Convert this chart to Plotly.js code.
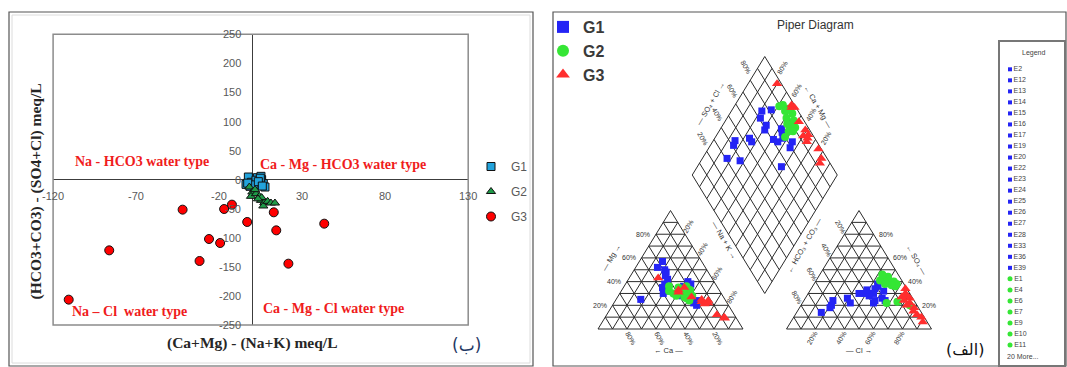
<!DOCTYPE html>
<html>
<head>
<meta charset="utf-8">
<script src="https://cdn.plot.ly/plotly-3.0.1.min.js"></script>
<style>
  html, body { margin: 0; padding: 0; background: #ffffff; }
  #chart { width: 1067px; height: 367px; }
</style>
</head>
<body>
<div id="chart"></div>
<script>
// ---------- Chadha plot values (meq/L) ----------
const xTicks = [-120, -70, -20, 30, 80, 130];
const yTicks = [-250, -200, -150, -100, -50, 0, 50, 100, 150, 200, 250];

const g1X = [-3.8, -1.8, 0.6, 3.0, 5.6, 6.6, 4.2, 1.6, -1.4, -2.4, 5.2, 7.6, -0.5, 2.2, 4.8, 1.0, 3.6, 6.0, -2.8];
const g1Y = [-8.1, -2.4, 1.7, 3.4, 0.0, -6.9, -8.1, -5.8, -11.5, 4.5, 5.7, -12.7, -4.5, -1.0, 2.5, -9.0, -3.5, -11.0, -6.0];

const g2X = [-1.8, 0.0, -0.8, 2.2, 4.2, 5.2, 7.2, 6.6, 9.2, 11.2, 13.6, 1.6, 5.6, 3.4];
const g2Y = [-12.7, -21.3, -28.7, -24.1, -28.7, -35.6, -39.5, -45.3, -37.3, -40.2, -40.2, -17.2, -30.9, -33.0];

const g3X = [-110.6, -86.2, -42.0, -31.8, -26.1, -19.4, -17.0, -12.3, -3.1, 12.9, 14.4, 21.7, 43.3];
const g3Y = [-206.4, -121.6, -51.6, -139.9, -102.1, -109.0, -50.5, -43.0, -72.8, -56.2, -87.2, -144.5, -75.7];

const quadrantLabels = ['Na - HCO3 water type', 'Ca - Mg - HCO3 water type', 'Na \u2013 Cl  water type', 'Ca - Mg - Cl water type'];

// ---------- Piper values (% of meq) ----------
const g1Na  = [21, 23, 27, 31, 42, 41, 45, 24, 27, 15, 16, 17, 27, 55, 56, 58, 47, 30, 44];
const g1Mg  = [50, 48, 42, 32, 40, 36, 38, 45, 38, 52, 57, 25, 35, 22, 24, 20, 33, 30, 28];
const g1Cl  = [45, 43, 44, 39, 45, 49, 49, 29, 33, 20, 21, 17, 21, 51, 53, 35, 44, 39, 56];
const g1SO4 = [30, 28, 38, 30, 36, 22, 24, 26, 22, 24, 20, 14, 18, 32, 26, 30, 34, 33, 24];

const g2Na  = [33, 38, 37, 43, 41, 47, 46, 51, 48, 48, 31, 40, 51, 44];
const g2Mg  = [32, 35, 30, 36, 33, 33, 27, 28, 30, 26, 36, 28, 24, 30];
const g2Cl  = [48, 54, 49, 57, 44, 57, 48, 54, 44, 58, 43, 75, 65, 49];
const g2SO4 = [44, 40, 42, 38, 45, 36, 40, 37, 41, 22, 46, 20, 23, 38];

const g3Na  = [20, 39, 42, 51, 59, 60, 64, 65, 76, 82, 83, 40, 63];
const g3Mg  = [43, 33, 35, 27, 25, 23, 24, 22, 12, 10, 9, 31, 21];
const g3Cl  = [67, 72, 65, 74, 79, 66, 80, 69, 88, 84, 73, 69, 91];
const g3SO4 = [30, 26, 34, 22, 18, 27, 15, 24, 10, 12, 20, 28, 6];

const g1Names = ['E2', 'E12', 'E13', 'E14', 'E15', 'E16', 'E17', 'E19', 'E20', 'E22', 'E23', 'E24', 'E25', 'E26', 'E27', 'E28', 'E33', 'E36', 'E39'];
const g2Listed = ['E1', 'E4', 'E6', 'E7', 'E9', 'E10', 'E11'];
const moreCount = 20;
const percentTicks = [20, 40, 60, 80];

// ---------- page geometry helpers ----------
const W = 1067, H = 367;
const fx = p => p / W;
const fy = p => 1 - p / H;

// Piper geometry: triangles of side 100, gap between them
const HT = Math.sqrt(3) / 2;
const GAP = 30;
const cationXY = (na, mg) => [na + mg / 2, mg * HT];
const anionXY = (cl, so4) => [100 + GAP + cl + so4 / 2, so4 * HT];
const diamondXY = (na, a) => [(na + 100 + GAP + a) / 2, Math.sqrt(3) * (100 + GAP + a - na) / 2];

function piperPoints(na, mg, cl, so4) {
  const xs = [], ys = [];
  na.forEach((v, i) => { const p = cationXY(v, mg[i]); xs.push(p[0]); ys.push(p[1]); });
  cl.forEach((v, i) => { const p = anionXY(v, so4[i]); xs.push(p[0]); ys.push(p[1]); });
  na.forEach((v, i) => { const p = diamondXY(v, cl[i] + so4[i]); xs.push(p[0]); ys.push(p[1]); });
  return { x: xs, y: ys };
}

// grid of the two triangles and the diamond, 10 % spacing
function gridTrace() {
  const xs = [], ys = [];
  const seg = (a, b) => { xs.push(a[0], b[0], null); ys.push(a[1], b[1], null); };
  [0, 100 + GAP].forEach(x0 => {
    for (let k = 0; k <= 100; k += 10) {
      seg([x0 + k / 2, k * HT], [x0 + 100 - k / 2, k * HT]);
      seg([x0 + k, 0], [x0 + 50 + k / 2, (100 - k) * HT]);
      seg([x0 + k, 0], [x0 + k / 2, k * HT]);
    }
  });
  const B = [100 + GAP / 2, GAP * HT];
  const e1 = [-0.5, HT], e2 = [0.5, HT];
  for (let k = 0; k <= 100; k += 10) {
    const p = [B[0] + k * e1[0], B[1] + k * e1[1]];
    seg(p, [p[0] + 100 * e2[0], p[1] + 100 * e2[1]]);
    const q = [B[0] + k * e2[0], B[1] + k * e2[1]];
    seg(q, [q[0] + 100 * e1[0], q[1] + 100 * e1[1]]);
  }
  return {
    type: 'scatter', mode: 'lines', x: xs, y: ys, xaxis: 'x2', yaxis: 'y2',
    line: { color: '#2b2b2b', width: 1 }, hoverinfo: 'skip', showlegend: false
  };
}

// ---------- traces ----------
const traces = [];

traces.push({
  type: 'scatter', mode: 'markers', name: 'G1', x: g1X, y: g1Y, legendgroup: 'c1',
  marker: { symbol: 'square', size: 8, color: '#22a3dc', line: { color: '#111', width: 1 } }
});
traces.push({
  type: 'scatter', mode: 'markers', name: 'G2', x: g2X, y: g2Y, legendgroup: 'c2',
  marker: { symbol: 'triangle-up', size: 8, color: '#1f9a48', line: { color: '#111', width: 1 } }
});
traces.push({
  type: 'scatter', mode: 'markers', name: 'G3', x: g3X, y: g3Y, legendgroup: 'c3',
  marker: { symbol: 'circle', size: 9, color: '#ff0000', line: { color: '#111', width: 1 } }
});

traces.push(gridTrace());

const p1 = piperPoints(g1Na, g1Mg, g1Cl, g1SO4);
const p2 = piperPoints(g2Na, g2Mg, g2Cl, g2SO4);
const p3 = piperPoints(g3Na, g3Mg, g3Cl, g3SO4);
traces.push({
  type: 'scatter', mode: 'markers', name: 'G1', x: p1.x, y: p1.y, xaxis: 'x2', yaxis: 'y2',
  legend: 'legend2', legendgroup: 'p1', marker: { symbol: 'square', size: 7, color: '#2424f5' }
});
traces.push({
  type: 'scatter', mode: 'markers', name: 'G2', x: p2.x, y: p2.y, xaxis: 'x2', yaxis: 'y2',
  legend: 'legend2', legendgroup: 'p2', marker: { symbol: 'circle', size: 8, color: '#35e635' }
});
traces.push({
  type: 'scatter', mode: 'markers', name: 'G3', x: p3.x, y: p3.y, xaxis: 'x2', yaxis: 'y2',
  legend: 'legend2', legendgroup: 'p3', marker: { symbol: 'triangle-up', size: 9, color: '#ff2e2e' }
});

// sample list box
traces.push({
  type: 'scatter', mode: 'markers+text', x: g1Names.map(() => 11), y: g1Names.map((n, i) => i),
  text: g1Names, textposition: 'middle right', textfont: { size: 7, color: '#444', family: 'Liberation Sans, Arial' },
  xaxis: 'x3', yaxis: 'y3', showlegend: false, hoverinfo: 'skip',
  marker: { symbol: 'square', size: 4, color: '#2424f5' }
});
traces.push({
  type: 'scatter', mode: 'markers+text', x: g2Listed.map(() => 11), y: g2Listed.map((n, i) => g1Names.length + i),
  text: g2Listed, textposition: 'middle right', textfont: { size: 7, color: '#444', family: 'Liberation Sans, Arial' },
  xaxis: 'x3', yaxis: 'y3', showlegend: false, hoverinfo: 'skip',
  marker: { symbol: 'circle', size: 5, color: '#35e635' }
});

// ---------- annotations ----------
const ann = [];
const tickFont = { family: 'Liberation Sans, Arial', size: 11, color: '#595959' };
xTicks.forEach(v => ann.push({ x: v, y: 0, xref: 'x', yref: 'y', text: String(v), showarrow: false,
  xanchor: 'center', yanchor: 'top', yshift: -8, font: tickFont }));
yTicks.forEach(v => ann.push({ x: 0, y: v, xref: 'x', yref: 'y', text: String(v), showarrow: false,
  xanchor: 'right', yanchor: 'middle', xshift: -9, font: tickFont }));

// paper-placed text, always centred on its point
const paperText = (px, py, t, font, extra) => ann.push(Object.assign({ x: fx(px), y: fy(py), xref: 'paper', yref: 'paper',
  text: t, showarrow: false, xanchor: 'center', yanchor: 'middle', font: font }, extra || {}));

const titleFont = { family: 'Liberation Serif, Times New Roman', size: 15.5, color: '#262626', weight: 'bold' };
paperText(252, 343, '(Ca+Mg) - (Na+K) meq/L', titleFont);
paperText(35.5, 192, '(HCO3+CO3) - (SO4+Cl) meq/L', titleFont, { textangle: -90 });

const redFont = { family: 'Liberation Serif, Times New Roman', size: 14, color: '#f01c1c', weight: 'bold' };
const quadPos = [[-107.8, 31], [3.4, 26], [-109.8, -226], [5.2, -221.6]];
quadrantLabels.forEach((t, i) => ann.push({ x: quadPos[i][0], y: quadPos[i][1], xref: 'x', yref: 'y', text: t,
  showarrow: false, xanchor: 'left', yanchor: 'middle', font: redFont }));

paperText(466, 345, '(\u0628)', { family: 'DejaVu Sans', size: 17, color: '#1f3864' });
paperText(965, 349, '(\u0627\u0644\u0641)', { family: 'DejaVu Sans', size: 16, color: '#111' });
paperText(815, 25, 'Piper Diagram', { family: 'Liberation Sans, Arial', size: 12, color: '#333' });

// Piper percentage labels
const pf = { family: 'Liberation Sans, Arial', size: 7, color: '#333' };
const lab = (x, y, t, opt) => ann.push(Object.assign({ x: x, y: y, xref: 'x2', yref: 'y2', text: t,
  showarrow: false, xanchor: 'center', yanchor: 'middle', font: pf }, opt));
percentTicks.forEach(k => {
  const t = k + '%';
  lab(k / 2, k * HT, t, { xanchor: 'right', xshift: -4 });                       // Mg
  lab(50 + k / 2, (100 - k) * HT, t, { xshift: 3, yshift: 8, textangle: -60 });   // Na + K
  lab(100 - k, 0, t, { xshift: 4, yshift: -9, textangle: 60 });                   // Ca
  lab(100 + GAP + (100 - k) / 2, (100 - k) * HT, t, { xshift: -4, yshift: 8, textangle: 60 }); // HCO3
  lab(200 + GAP - k / 2, k * HT, t, { xanchor: 'left', xshift: 3 });              // SO4
  lab(100 + GAP + k, 0, t, { xshift: -4, yshift: -9, textangle: -60 });           // Cl
  lab(GAP / 2 + 50 + k / 2, (100 + GAP) * HT + k * HT, t, { xshift: -4, yshift: 13, textangle: 60 });  // SO4 + Cl
  lab(GAP / 2 + 150 - k / 2, (100 + GAP) * HT + k * HT, t, { xshift: 3, yshift: 13, textangle: -60 }); // Ca + Mg
});
const nf = { family: 'Liberation Sans, Arial', size: 7.5, color: '#333' };
const axName = (x, y, t, a) => ann.push({ x: x, y: y, xref: 'x2', yref: 'y2', text: t, showarrow: false,
  xanchor: 'center', yanchor: 'middle', textangle: a, font: nf });
axName(9.0, 52.6, '\u2014 Mg \u2192', -60);
axName(48.8, -15.4, '\u2190 Ca \u2014', 0);
axName(179.9, -15.4, '\u2014 Cl \u2192', 0);
axName(220, 50.4, '\u2190 SO\u2084 \u2014', 60);
axName(77.6, 165, '\u2014 SO\u2084 + Cl \u2192', -60);
axName(151.5, 162.5, '\u2190 Ca + Mg \u2014', 60);
axName(86.6, 65.1, '\u2014 Na + K \u2192', 60);
axName(142.1, 61.4, '\u2190 HCO\u2083 + CO\u2083 \u2014', -60);

// sample list box title and overflow line
paperText(1033, 53, 'Legend', { family: 'Liberation Sans, Arial', size: 7, color: '#444' });
ann.push({ x: 6, y: g1Names.length + g2Listed.length, xref: 'x3', yref: 'y3', text: moreCount + ' More...',
  showarrow: false, xanchor: 'left', yanchor: 'middle', font: { family: 'Liberation Sans, Arial', size: 7, color: '#444' } });

// ---------- frames ----------
const shapes = [
  { type: 'rect', xref: 'paper', yref: 'paper', x0: fx(9), x1: fx(533), y0: fy(366), y1: fy(12),
    line: { color: '#555', width: 1.2 } },
  { type: 'rect', xref: 'paper', yref: 'paper', x0: fx(12), x1: fx(530), y0: fy(363), y1: fy(15),
    line: { color: '#dcdcdc', width: 1 } },
  { type: 'rect', xref: 'x domain', yref: 'y domain', x0: 0, x1: 1, y0: 0, y1: 1,
    line: { color: '#8c8c8c', width: 1.5 } },
  { type: 'rect', xref: 'paper', yref: 'paper', x0: fx(553), x1: fx(1066), y0: fy(366), y1: fy(12),
    line: { color: '#555', width: 1.2 } },
  { type: 'rect', xref: 'paper', yref: 'paper', x0: fx(999), x1: fx(1065), y0: fy(366), y1: fy(41),
    line: { color: '#777', width: 2 } }
];

// ---------- layout ----------
const hidden = { visible: false, fixedrange: true };
const layout = {
  width: W, height: H,
  margin: { l: 0, r: 0, t: 0, b: 0 },
  paper_bgcolor: '#ffffff', plot_bgcolor: 'rgba(0,0,0,0)',
  showlegend: true,
  xaxis: { domain: [fx(53.1), fx(468.2)], range: [-120, 130], showgrid: false, showticklabels: false,
    ticks: '', zeroline: true, zerolinecolor: '#3c3c3c', zerolinewidth: 1.6, showline: false, fixedrange: true },
  yaxis: { domain: [fy(325), fy(34.3)], range: [-250, 250], showgrid: false, showticklabels: false,
    ticks: '', zeroline: true, zerolinecolor: '#3c3c3c', zerolinewidth: 1.6, showline: false, fixedrange: true },
  xaxis2: Object.assign({ domain: [fx(553), fx(986)], range: [(553 - 598) / 1.45, (986 - 598) / 1.45], anchor: 'y2' }, hidden),
  yaxis2: Object.assign({ domain: [fy(366), fy(12)], range: [(329 - 366) / 1.368, (329 - 12) / 1.368], anchor: 'x2' }, hidden),
  xaxis3: Object.assign({ domain: [fx(999), fx(1066)], range: [0, 67], anchor: 'y3' }, hidden),
  yaxis3: Object.assign({ domain: [fy(366), fy(41)], range: [(366 - 69.3) / 11.03, (41 - 69.3) / 11.03], anchor: 'x3' }, hidden),
  legend: { x: fx(471), y: fy(152), xanchor: 'left', yanchor: 'top', bgcolor: 'rgba(0,0,0,0)',
    traceorder: 'grouped', tracegroupgap: 6, itemsizing: 'trace',
    font: { family: 'Liberation Sans, Arial', size: 12, color: '#595959' } },
  legend2: { x: fx(543), y: fy(10), xanchor: 'left', yanchor: 'top', bgcolor: 'rgba(0,0,0,0)',
    traceorder: 'grouped', tracegroupgap: 0, itemsizing: 'constant',
    font: { family: 'Liberation Sans, Arial', size: 16, color: '#3a3a3a', weight: 'bold' } },
  annotations: ann,
  shapes: shapes
};

Plotly.newPlot('chart', traces, layout, { displayModeBar: false, staticPlot: true });
</script>
</body>
</html>
